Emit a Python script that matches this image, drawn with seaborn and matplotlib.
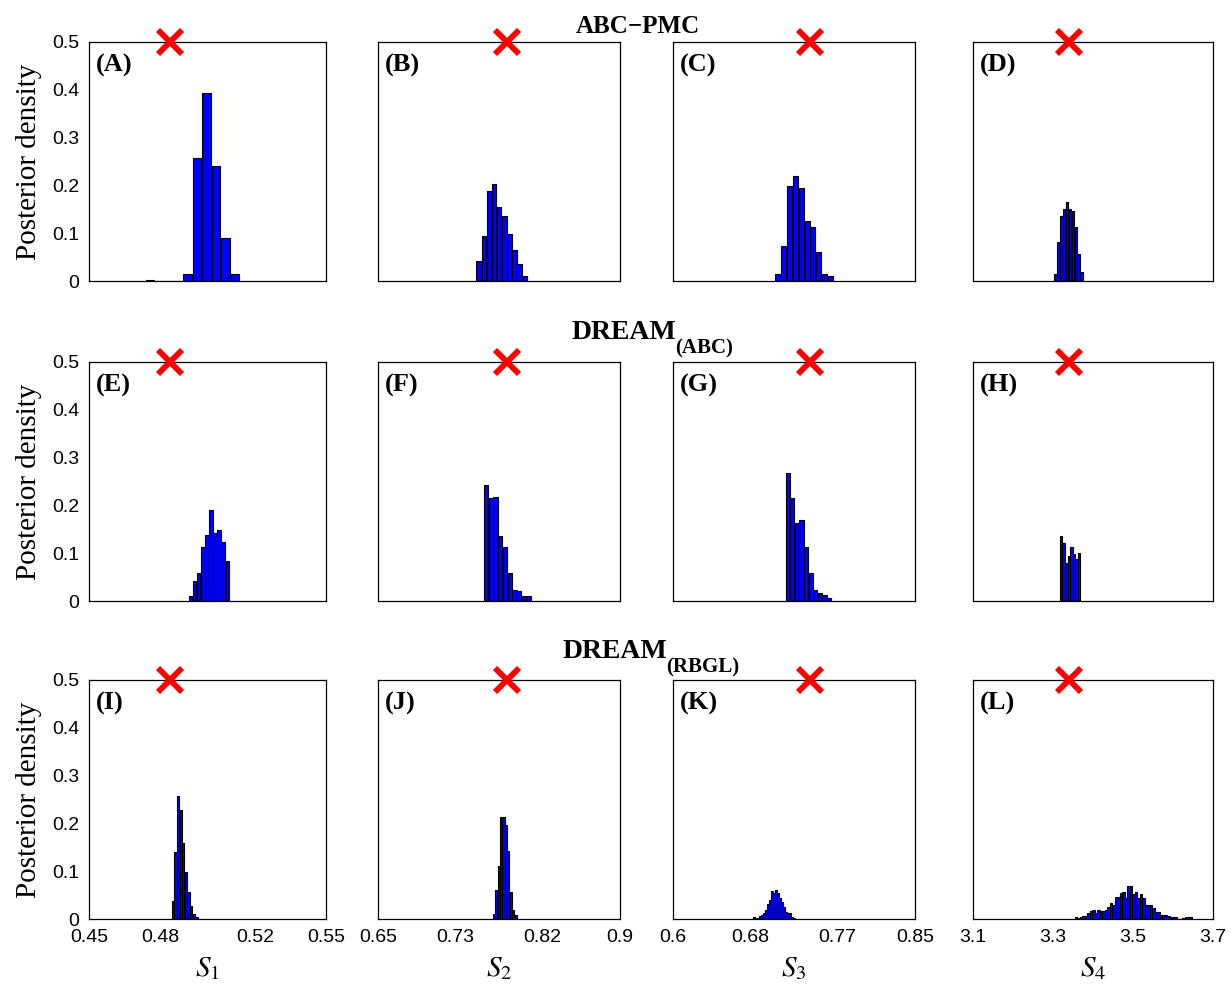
import numpy as np
import pandas as pd
import matplotlib
matplotlib.use("Agg")
import matplotlib.pyplot as plt
import seaborn as sns

sns.set_theme(style="white")
plt.rcParams["font.family"] = ["Liberation Serif", "DejaVu Serif"]
plt.rcParams["mathtext.fontset"] = "stix"
plt.rcParams["text.color"] = "black"
plt.rcParams["axes.labelcolor"] = "black"

# ---- parameters (columns) ----
param_labels = ["$S_1$", "$S_2$", "$S_3$", "$S_4$"]
x_limits = [(0.45, 0.55), (0.65, 0.90), (0.60, 0.85), (3.1, 3.7)]
x_ticks = [[0.45, 0.48, 0.52, 0.55],
           [0.65, 0.73, 0.82, 0.90],
           [0.60, 0.68, 0.77, 0.85],
           [3.1, 3.3, 3.5, 3.7]]
x_tick_labels = [["0.45", "0.48", "0.52", "0.55"],
                 ["0.65", "0.73", "0.82", "0.9"],
                 ["0.6", "0.68", "0.77", "0.85"],
                 ["3.1", "3.3", "3.5", "3.7"]]
true_values = [0.4842, 0.7833, 0.7417, 3.34]

# ---- methods (rows) ----
method_names = ["ABC\u2212PMC", "DREAM", "DREAM"]
method_subscripts = ["", "(ABC)", "(RBGL)"]
panel_letters = ["A", "B", "C", "D", "E", "F", "G", "H", "I", "J", "K", "L"]

# ---- marginal posterior histograms: first bin centre, bin width, densities ----
hist_start = [
    [0.4756, 0.7540, 0.7085, 3.3060],
    [0.4928, 0.7616, 0.7185, 3.3200],
    [0.4854, 0.7696, 0.6840, 3.3575],
]
hist_width = [
    [0.0040, 0.0053, 0.0060, 0.0073],
    [0.00173, 0.0049, 0.00475, 0.0065],
    [0.0011, 0.0025, 0.00207, 0.00625],
]
dens_A = [0.003, 0, 0, 0, 0.014, 0.258, 0.394, 0.241, 0.091, 0.015]
dens_B = [0.042, 0.094, 0.189, 0.203, 0.154, 0.136, 0.098, 0.064, 0.036, 0.011]
dens_C = [0.015, 0.074, 0.199, 0.220, 0.195, 0.126, 0.112, 0.060, 0.015, 0.011]
dens_D = [0.015, 0.081, 0.137, 0.151, 0.165, 0.151, 0.147, 0.112, 0.056, 0.018]
dens_E = [0.010, 0.041, 0.058, 0.114, 0.138, 0.190, 0.142, 0.149, 0.124, 0.084]
dens_F = [0.243, 0.215, 0.218, 0.135, 0.114, 0.058, 0.024, 0.020, 0.010, 0.010]
dens_G = [0.267, 0.215, 0.163, 0.169, 0.114, 0.058, 0.023, 0.016, 0.012, 0.006]
dens_H = [0.136, 0.121, 0.080, 0.094, 0.114, 0.098, 0.087, 0.101]
dens_I = [0.038, 0.140, 0.258, 0.227, 0.160, 0.098, 0.056, 0.028, 0.010, 0.004]
dens_J = [0.010, 0.061, 0.111, 0.213, 0.213, 0.197, 0.143, 0.056, 0.019, 0.008]
dens_K = [0.005, 0.002, 0.003, 0.007, 0.008, 0.012, 0.019, 0.031, 0.040, 0.059,
          0.055, 0.061, 0.054, 0.043, 0.035, 0.026, 0.015, 0.012, 0.012, 0.005, 0.003]
dens_L = [0.004, 0.002, 0.004, 0.006, 0.006, 0.012, 0.017, 0.019, 0.012, 0.019,
          0.016, 0.016, 0.019, 0.026, 0.034, 0.029, 0.045, 0.045, 0.054, 0.056,
          0.043, 0.068, 0.070, 0.052, 0.056, 0.043, 0.052, 0.043, 0.029, 0.029,
          0.029, 0.022, 0.015, 0.015, 0.008, 0.008, 0.008, 0.006, 0.004, 0.004,
          0.004, 0.001, 0.001, 0.002, 0.004, 0.004, 0.004]
densities = [[dens_A, dens_B, dens_C, dens_D],
             [dens_E, dens_F, dens_G, dens_H],
             [dens_I, dens_J, dens_K, dens_L]]

y_ticks = [0, 0.1, 0.2, 0.3, 0.4, 0.5]
y_tick_labels = ["0", "0.1", "0.2", "0.3", "0.4", "0.5"]

# ---- figure layout (pixels) ----
W, H = 1231, 988
fig = plt.figure(figsize=(W / 100, H / 100), dpi=100)
col_lr = [(89, 326), (378, 620), (673, 915), (973, 1213)]
row_tb = [(42, 281), (362, 601), (680, 919)]
title_left_base = [(576, 33), (572, 339), (563, 658)]
title_sizes = [18, 20, 20]
tick_font = "Liberation Sans"

for r in range(3):
    for c in range(4):
        l, rr = col_lr[c]
        t, b = row_tb[r]
        ax = fig.add_axes([l / W, 1 - b / H, (rr - l) / W, (b - t) / H])
        heights = np.asarray(densities[r][c], dtype=float)
        w = hist_width[r][c]
        centres = hist_start[r][c] + w * np.arange(len(heights))
        frame = pd.DataFrame({"value": centres, "density": heights})
        sns.barplot(data=frame, x="value", y="density", ax=ax, orient="x",
                    native_scale=True, width=0.88, errorbar=None,
                    color="#0000ff", saturation=1, edgecolor="black",
                    linewidth=0.8)
        ax.plot([true_values[c]], [0.5], marker="x", color="red",
                markersize=17, markeredgewidth=4.2, clip_on=False, zorder=10)
        ax.set_xlim(*x_limits[c])
        ax.set_ylim(0, 0.5)
        ax.set_xticks(x_ticks[c])
        ax.tick_params(axis="both", direction="in", length=4, width=0.8,
                       labelsize=14, colors="black", pad=7)
        if r == 2:
            ax.set_xticklabels(x_tick_labels[c], fontfamily=tick_font)
            ax.set_xlabel(param_labels[c], fontsize=21, labelpad=7)
        else:
            ax.set_xticklabels([])
            ax.set_xlabel("")
        if c == 0:
            ax.set_yticks(y_ticks)
            ax.set_yticklabels(y_tick_labels, fontfamily=tick_font)
            ax.set_ylabel("Posterior density", fontsize=21, labelpad=7)
        else:
            ax.set_yticks([])
            ax.set_ylabel("")
        for s in ax.spines.values():
            s.set_visible(True)
            s.set_color("black")
            s.set_linewidth(0.9)
        ax.text(0.03, 0.9, "(" + panel_letters[r * 4 + c] + ")",
                transform=ax.transAxes, ha="left", va="center",
                fontsize=19, fontweight="bold")

    # row heading, with its subscript set just after the main word
    tx, ty = title_left_base[r]
    head = fig.text(tx / W, 1 - ty / H, method_names[r], ha="left",
                    va="baseline", fontsize=title_sizes[r], fontweight="bold")
    if method_subscripts[r]:
        fig.draw_without_rendering()
        plt.annotate(method_subscripts[r], xy=(1.0, 0.0), xycoords=head,
                     xytext=(-1, -6), textcoords="offset points",
                     ha="left", va="baseline", fontsize=15, fontweight="bold",
                     annotation_clip=False)

fig.savefig("out.png", dpi=100)
